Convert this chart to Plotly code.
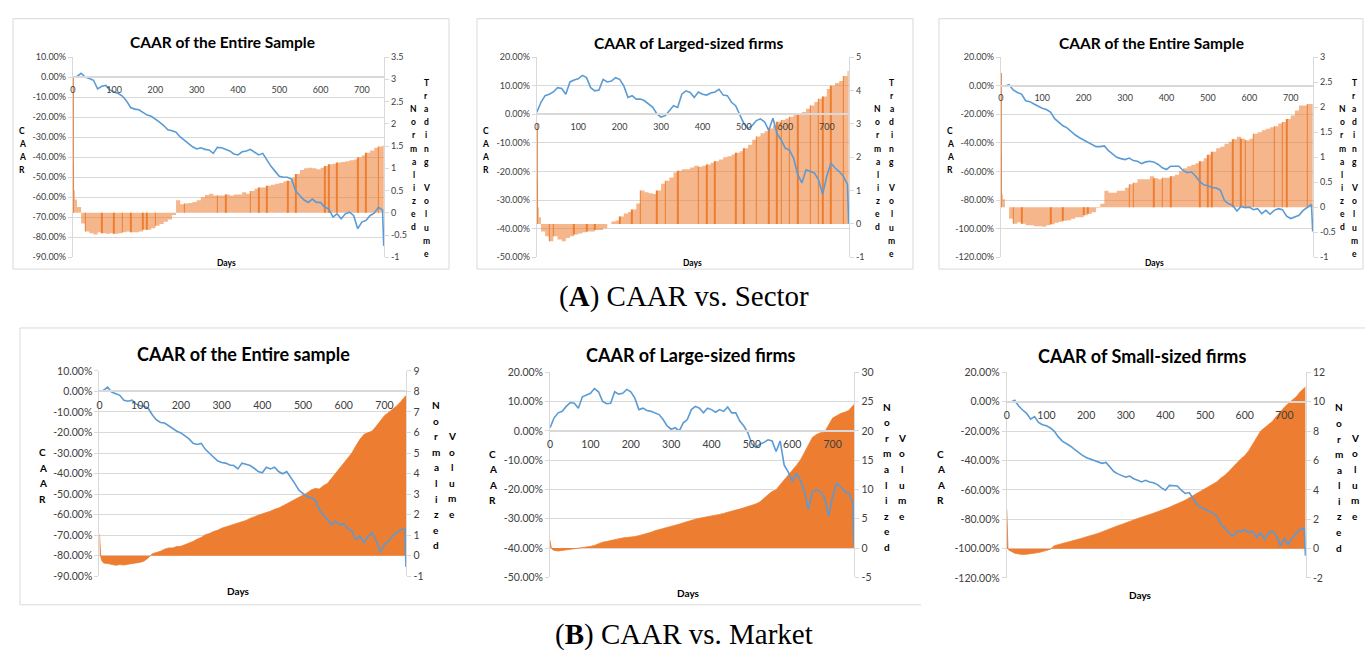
import plotly.graph_objects as go

W, H = 1365, 653

# ---------------- data ----------------
DAYS = list(range(0, 751, 10)) + [753]
VOL_DAYS = [0, 1, 3, 5] + list(range(10, 751, 10)) + [753]
TICK_DAYS = [0, 100, 200, 300, 400, 500, 600, 700]

# CAAR in percent
A1_CAAR = [0, 0.3, 1.9, 0, -0.7, -1.6, -5.9, -4.6, -4.2, -6.5, -7.5, -8.2, -9.5, -11.9, -15.2, -16.0,
           -16.3, -17.6, -19.0, -19.6, -20.9, -22.5, -24.2, -26.3, -26.8, -27.5, -29.9, -31.5, -33.2,
           -34.8, -35.9, -35.3, -36.1, -36.4, -38.1, -35.1, -35.3, -36.1, -36.9, -38.4, -38.9, -37.3,
           -36.9, -36.1, -37.7, -38.9, -38.1, -41.3, -44.6, -47.1, -49.5, -50.0, -50.0, -51.1, -56.9,
           -59.3, -61.4, -62.6, -60.9, -62.6, -62.6, -65.0, -65.8, -69.9, -68.3, -70.8, -68.3, -67.5,
           -69.1, -75.7, -72.4, -71.6, -69.1, -68.0, -65.0, -66.3, -84.3]
A2_CAAR = [0.7, 4.2, 6.5, 7.0, 7.8, 9.3, 9.0, 7.0, 11.3, 12.0, 12.4, 13.6, 12.8, 9.3, 8.2, 8.5, 12.2,
           11.3, 11.6, 12.8, 12.2, 9.9, 5.9, 6.5, 5.3, 5.3, 4.7, 3.6, 2.4, 0.1, -1.0, -0.5, 1.3, 3.0,
           2.4, 7.0, 8.2, 7.6, 5.9, 7.8, 7.0, 6.7, 7.4, 7.8, 8.7, 6.7, 6.5, 4.2, 3.0, 0.1, -3.3, -5.0,
           -3.9, -2.2, -1.6, -2.7, -5.6, -1.4, -6.8, -9.0, -11.9, -12.5, -15.4, -21.1, -24.0, -19.4,
           -20.0, -20.5, -22.8, -28.0, -21.7, -17.1, -18.8, -20.0, -21.7, -24.5, -38.3]
A3_CAAR = [0, -0.2, 0.7, -3.0, -4.8, -5.9, -10.5, -11.2, -12.8, -14.6, -15.8, -16.7, -18.5, -23.1,
           -25.9, -28.1, -29.5, -32.3, -34.5, -36.4, -38.0, -39.6, -41.0, -42.6, -42.6, -42.1, -45.5,
           -47.8, -50.1, -51.0, -51.7, -50.6, -52.4, -52.9, -54.5, -53.3, -52.9, -53.5, -55.1, -57.4,
           -58.6, -56.3, -56.3, -56.3, -59.3, -60.9, -60.2, -63.1, -67.0, -69.3, -70.0, -71.2, -71.6,
           -73.0, -80.3, -82.6, -83.7, -87.6, -84.4, -85.3, -84.9, -86.7, -86.0, -89.5, -87.2, -89.9,
           -87.2, -86.0, -86.7, -91.3, -92.9, -91.7, -90.6, -87.2, -84.9, -83.1, -102.0]
B1_CAAR = [0, 0.5, 2.1, -0.3, -1.1, -1.9, -4.3, -4.8, -4.3, -6.2, -7.0, -7.2, -8.3, -11.5, -13.9,
           -15.1, -15.4, -16.7, -18.3, -19.4, -20.2, -21.8, -23.1, -25.3, -25.8, -25.3, -28.2, -30.1,
           -32.2, -33.8, -34.6, -34.9, -35.8, -36.1, -37.7, -34.9, -35.4, -36.1, -37.4, -39.0, -39.6,
           -36.9, -37.7, -36.9, -39.0, -40.1, -39.0, -41.7, -44.9, -48.1, -49.7, -51.3, -51.8, -52.9,
           -57.6, -60.0, -62.9, -64.8, -63.2, -64.8, -64.5, -66.7, -68.0, -72.0, -70.4, -73.6, -70.4,
           -68.8, -72.8, -78.3, -74.4, -72.8, -70.4, -68.8, -67.2, -67.2, -85.5]
B2_CAAR = [1.1, 4.5, 6.2, 6.7, 8.4, 9.7, 9.5, 7.8, 11.7, 12.3, 12.9, 14.5, 13.4, 10.1, 9.3, 9.5, 13.4,
           12.6, 12.9, 14.2, 13.4, 11.2, 7.3, 7.8, 7.0, 6.7, 6.2, 5.6, 3.9, 1.7, 0.6, 1.1, 0.0, 2.8,
           3.9, 7.3, 8.4, 7.8, 6.2, 7.8, 7.3, 6.4, 7.3, 6.7, 8.2, 6.2, 6.2, 3.4, 1.7, -0.6, -4.5,
           -5.6, -4.5, -3.9, -3.0, -3.4, -7.0, -3.4, -11.7, -14.0, -17.3, -14.5, -16.8, -20.7, -26.8,
           -20.7, -20.1, -20.7, -22.9, -29.1, -22.4, -17.9, -19.0, -20.7, -21.3, -24.6, -39.1]
B3_CAAR = [0, -0.2, 1.1, -2.9, -5.6, -7.8, -11.8, -10.0, -14.0, -15.6, -16.3, -17.8, -20.1, -23.9,
           -26.8, -28.3, -30.1, -32.3, -34.6, -36.3, -37.9, -39.0, -40.1, -41.3, -41.9, -41.3, -44.6,
           -47.5, -49.1, -50.2, -51.3, -50.6, -52.4, -53.5, -54.6, -53.5, -54.6, -55.1, -56.4, -58.6,
           -60.2, -56.9, -57.3, -57.3, -60.2, -62.4, -61.8, -65.8, -70.2, -72.0, -72.9, -74.7, -75.8,
           -78.1, -83.6, -85.9, -89.2, -91.5, -88.1, -88.5, -87.0, -89.2, -88.1, -92.5, -89.2, -93.7,
           -89.2, -88.1, -91.4, -98.1, -93.0, -97.0, -92.5, -89.2, -87.0, -85.9, -104.8]

# Normalized (trading) volume
A1_VOL = [3.05, 1.1, 0.5, 0.3, 0.13, -0.24, -0.42, -0.46, -0.49, -0.44, -0.46, -0.47, -0.46, -0.47,
          -0.46, -0.44, -0.42, -0.44, -0.44, -0.42, -0.38, -0.38, -0.35, -0.29, -0.25, -0.2, -0.15,
          -0.05, 0.28, 0.19, 0.21, 0.22, 0.24, 0.28, 0.35, 0.40, 0.43, 0.39, 0.39, 0.39, 0.41, 0.39,
          0.41, 0.41, 0.46, 0.43, 0.49, 0.54, 0.57, 0.57, 0.61, 0.63, 0.65, 0.67, 0.71, 0.72, 0.79,
          0.87, 0.96, 1.0, 1.01, 1.0, 0.98, 1.01, 1.05, 1.09, 1.1, 1.13, 1.14, 1.16, 1.18, 1.2, 1.24,
          1.29, 1.35, 1.4, 1.46, 1.49, 1.51, 1.51]
A2_VOL = [3.0, 1.3, 0.5, 0.2, -0.23, -0.37, -0.52, -0.37, -0.47, -0.52, -0.42, -0.37, -0.32, -0.29,
          -0.25, -0.23, -0.23, -0.18, -0.18, -0.13, 0.0, 0.07, 0.1, 0.22, 0.31, 0.36, 0.43, 0.61, 1.0,
          0.95, 0.92, 0.9, 1.0, 1.2, 1.29, 1.39, 1.54, 1.59, 1.64, 1.64, 1.69, 1.74, 1.71, 1.74, 1.78,
          1.83, 1.88, 1.93, 2.0, 2.03, 2.08, 2.13, 2.18, 2.27, 2.37, 2.52, 2.62, 2.72, 2.78, 2.86, 2.96,
          3.06, 3.11, 3.16, 3.21, 3.27, 3.3, 3.35, 3.45, 3.55, 3.65, 3.75, 3.82, 4.04, 4.14, 4.22, 4.28,
          4.43, 4.58, 4.58]
A3_VOL = [2.68, 1.05, 0.26, 0.16, 0.0, -0.23, -0.33, -0.3, -0.33, -0.36, -0.36, -0.38, -0.38, -0.39,
          -0.36, -0.34, -0.31, -0.29, -0.27, -0.26, -0.23, -0.2, -0.2, -0.16, -0.13, -0.1, -0.01, 0.07,
          0.33, 0.29, 0.29, 0.33, 0.33, 0.39, 0.46, 0.49, 0.56, 0.56, 0.56, 0.62, 0.58, 0.56, 0.59,
          0.59, 0.62, 0.65, 0.72, 0.78, 0.82, 0.85, 0.88, 0.92, 0.98, 1.05, 1.11, 1.18, 1.21, 1.27,
          1.31, 1.36, 1.41, 1.37, 1.34, 1.37, 1.47, 1.5, 1.54, 1.57, 1.6, 1.62, 1.67, 1.7, 1.76, 1.83,
          1.93, 2.03, 2.03, 2.06, 2.06, 2.06]
B1_VOL = [1.05, 0.5, 0.0, -0.22, -0.35, -0.38, -0.43, -0.46, -0.43, -0.45, -0.41, -0.38, -0.35, -0.32,
          -0.25, -0.1, 0.1, 0.16, 0.22, 0.32, 0.38, 0.38, 0.45, 0.46, 0.54, 0.61, 0.7, 0.81, 0.89, 1.02,
          1.08, 1.18, 1.24, 1.34, 1.4, 1.46, 1.53, 1.59, 1.66, 1.72, 1.82, 1.88, 1.97, 2.04, 2.1, 2.17,
          2.26, 2.32, 2.42, 2.52, 2.64, 2.72, 2.83, 2.93, 3.06, 3.2, 3.28, 3.25, 3.41, 3.52, 3.76, 4.0,
          4.27, 4.47, 4.71, 5.0, 5.35, 5.67, 5.91, 5.99, 6.07, 6.31, 6.59, 6.82, 6.97, 7.13, 7.29, 7.5,
          7.71, 7.8]
B2_VOL = [1.3, 0.6, 0.0, -0.2, -0.4, -0.5, -0.4, -0.3, -0.2, -0.17, -0.1, 0.0, 0.1, 0.28, 0.45, 0.73,
          1.0, 1.12, 1.28, 1.45, 1.62, 1.73, 1.79, 1.84, 1.96, 2.12, 2.29, 2.51, 2.68, 2.96, 3.13, 3.35,
          3.52, 3.69, 3.8, 4.08, 4.3, 4.53, 4.75, 4.92, 5.08, 5.2, 5.31, 5.47, 5.64, 5.75, 5.92, 6.15,
          6.31, 6.48, 6.65, 6.87, 7.09, 7.32, 7.54, 7.88, 8.55, 9.1, 9.66, 9.94, 10.8, 11.6, 12.5, 13.3,
          14.1, 15.0, 16.3, 17.5, 18.9, 19.4, 19.7, 19.8, 21.1, 22.2, 22.6, 23.0, 23.2, 23.5, 24.3, 24.5]
B3_VOL = [2.65, 0.75, 0.0, -0.1, -0.18, -0.31, -0.36, -0.4, -0.38, -0.36, -0.31, -0.27, -0.2, -0.13,
          -0.04, 0.2, 0.27, 0.31, 0.4, 0.49, 0.53, 0.6, 0.71, 0.8, 0.87, 0.94, 1.03, 1.14, 1.25, 1.38,
          1.47, 1.56, 1.65, 1.76, 1.87, 1.96, 2.05, 2.14, 2.21, 2.32, 2.41, 2.5, 2.61, 2.72, 2.81, 2.94,
          3.03, 3.17, 3.3, 3.43, 3.61, 3.77, 3.92, 4.06, 4.21, 4.37, 4.55, 4.81, 4.99, 5.26, 5.55, 5.89,
          6.11, 6.33, 6.67, 7.11, 7.56, 8.0, 8.23, 8.45, 8.67, 9.01, 9.34, 9.63, 9.9, 10.12, 10.34,
          10.68, 10.9, 11.0]

# days on which the Excel bars show in the darker orange
A1_DARK = [0, 30, 70, 100, 120, 140, 170, 180, 200, 270, 350, 370, 430, 450, 470, 520, 540, 610,
           620, 640, 690, 710, 740]
A2_DARK = [0, 30, 40, 90, 120, 140, 200, 230, 250, 290, 310, 340, 390, 410, 430, 480, 500, 530,
           560, 580, 590, 610, 630, 660, 680, 690, 710, 740]
A3_DARK = [0, 30, 50, 120, 150, 200, 210, 310, 320, 370, 390, 410, 480, 500, 510, 560, 580, 590,
           610, 660, 680, 690, 740]

TITLES = ["CAAR of the Entire Sample", "CAAR of Larged-sized firms", "CAAR of the Entire Sample",
          "CAAR of the Entire sample", "CAAR of Large-sized firms", "CAAR of Small-sized firms"]

for s in (A1_CAAR, A2_CAAR, A3_CAAR, B1_CAAR, B2_CAAR, B3_CAAR):
    assert len(s) == len(DAYS), len(s)
for s in (A1_VOL, A2_VOL, A3_VOL, B1_VOL, B2_VOL, B3_VOL):
    assert len(s) == len(VOL_DAYS), len(s)

# ---------------- layout helpers ----------------
BLUE = "#5B9BD5"
ORANGE = "#ED7D31"
GRID = "#D9D9D9"
TXT = "#404040"
FONT = "Lato"


def fx(x):
    return x / W


def fy(y):
    return 1 - y / H


panels = [
    dict(caar=A1_CAAR, vol=A1_VOL, dark=A1_DARK, top=True, box=(70, 382, 52, 256),
         lr=(-90, 10, 10), rr=(-1, 3.5, 0.5), title=(220.3, 37), days=(224, 262.3),
         caar_lbl=(19.3, 127.3), norm=(411.7, 105), vol_lbl=(424, 78.3)),
    dict(caar=A2_CAAR, vol=A2_VOL, dark=A2_DARK, top=True, box=(535, 848, 52, 256),
         lr=(-50, 20, 10), rr=(-1, 5, 1), title=(686.7, 37.3), days=(691, 262.3),
         caar_lbl=(484, 127.3), norm=(876.7, 105), vol_lbl=(890.7, 78.3)),
    dict(caar=A3_CAAR, vol=A3_VOL, dark=A3_DARK, top=True, box=(1000, 1313, 52, 256),
         lr=(-120, 20, 20), rr=(-1, 3, 0.5), title=(1150.8, 38), days=(1154, 262.3),
         caar_lbl=(949.3, 127.3), norm=(1342.3, 105), vol_lbl=(1354.3, 78.3)),
    dict(caar=B1_CAAR, vol=B1_VOL, dark=None, top=False, box=(96.7, 404.3, 371.7, 581),
         lr=(-90, 10, 10), rr=(-1, 9, 1), title=(240.8, 355), days=(235.7, 595.7),
         caar_lbl=(40, 454.3), norm=(434, 406.7), vol_lbl=(450, 438.3)),
    dict(caar=B2_CAAR, vol=B2_VOL, dark=None, top=False, box=(548.3, 853.3, 373.3, 582),
         lr=(-50, 20, 10), rr=(-5, 30, 5), title=(689.2, 356), days=(687.3, 597.7),
         caar_lbl=(491, 456), norm=(885.7, 408.3), vol_lbl=(901, 440)),
    dict(caar=B3_CAAR, vol=B3_VOL, dark=None, top=False, box=(1006, 1305.7, 373.3, 582.7),
         lr=(-120, 20, 20), rr=(-2, 12, 2), title=(1141.7, 356.7), days=(1140, 600),
         caar_lbl=(940, 456), norm=(1339.3, 409), vol_lbl=(1355, 440)),
]

fig = go.Figure()
layout = {}
annotations = []
shapes = []


def stack(text, x, y_first, step, size):
    for k, ch in enumerate(text):
        if ch == " ":
            continue
        annotations.append(dict(text=f"<b>{ch}</b>", x=fx(x), y=fy(y_first + k * step),
                                xref="paper", yref="paper", showarrow=False,
                                xanchor="center", yanchor="middle",
                                font=dict(family=FONT, size=size, color="#000")))


def ticks(lo, hi, step):
    n = int(round((hi - lo) / step))
    return [round(lo + k * step, 6) for k in range(n + 1)]


for i, P in enumerate(panels):
    xa = "xaxis" if i == 0 else f"xaxis{i + 1}"
    xr = "x" if i == 0 else f"x{i + 1}"
    yb, yo = 2 * i + 1, 2 * i + 2
    yba = "yaxis" if yb == 1 else f"yaxis{yb}"
    ybr = "y" if yb == 1 else f"y{yb}"
    yoa, yor = f"yaxis{yo}", f"y{yo}"
    x0, x1, y0, y1 = P["box"]
    dx = [fx(x0), fx(x1)]
    dy = [fy(y1), fy(y0)]
    lo, hi, lstep = P["lr"]
    rlo, rhi, rstep = P["rr"]
    zero = dy[0] + (0 - lo) / (hi - lo) * (dy[1] - dy[0])
    fs = 9 if P["top"] else 10.5

    layout[xa] = dict(domain=dx, range=[0, 754], anchor="free", position=zero,
                      tickvals=TICK_DAYS, ticktext=[str(d) for d in TICK_DAYS],
                      showgrid=False, zeroline=False, showline=True, linecolor=GRID,
                      linewidth=1.5, ticks="", ticklabelstandoff=4,
                      tickfont=dict(family=FONT, size=fs, color=TXT))
    rv = ticks(rlo, rhi, rstep)
    layout[yba] = dict(domain=dy, range=[rlo, rhi], side="right", anchor=xr,
                       tickvals=rv, ticktext=[f"{v:g}" for v in rv],
                       showgrid=False, zeroline=False, showline=True, linecolor=GRID,
                       ticks="outside", ticklen=4, tickcolor=GRID,
                       tickfont=dict(family=FONT, size=fs, color=TXT))
    lv = ticks(lo, hi, lstep)
    layout[yoa] = dict(overlaying=ybr, side="left", anchor=xr, range=[lo, hi],
                       tickvals=lv, ticktext=[f"{v:.2f}%" for v in lv],
                       showgrid=True, gridcolor=GRID, gridwidth=1, zeroline=False,
                       showline=True, linecolor=GRID, ticks="outside", ticklen=4,
                       tickcolor=GRID, tickfont=dict(family=FONT, size=fs, color=TXT))

    # volume (drawn first, base subplot)
    if P["top"]:
        vmap = dict(zip(VOL_DAYS, P["vol"]))
        dd = P["dark"]
        fig.add_trace(go.Bar(x=dd, y=[vmap[d] for d in dd], width=1.6,
                             marker=dict(color=ORANGE, line=dict(width=0)),
                             xaxis=xr, yaxis=ybr, hoverinfo="skip"))
        fig.add_trace(go.Scatter(x=VOL_DAYS, y=P["vol"], mode="lines", line=dict(width=0, shape="hv"),
                                 fill="tozeroy", fillcolor="rgba(237,125,49,0.56)",
                                 xaxis=xr, yaxis=ybr, hoverinfo="skip"))
    else:
        fig.add_trace(go.Scatter(x=VOL_DAYS, y=P["vol"], mode="lines", line=dict(width=0.8, color=ORANGE),
                                 fill="tozeroy", fillcolor=ORANGE,
                                 xaxis=xr, yaxis=ybr, hoverinfo="skip"))
    # CAAR line (overlay subplot -> drawn on top)
    fig.add_trace(go.Scatter(x=DAYS, y=P["caar"], mode="lines",
                             line=dict(color=BLUE, width=1.6),
                             xaxis=xr, yaxis=yor, hoverinfo="skip"))

    tsize = 15.5 if P["top"] else 18
    annotations.append(dict(text=f"<b>{TITLES[i]}</b>", x=fx(P["title"][0]), y=fy(P["title"][1]),
                            xref="paper", yref="paper", showarrow=False,
                            xanchor="center", yanchor="middle",
                            font=dict(family=FONT, size=tsize, color="#000")))
    dsize = 8.5 if P["top"] else 10
    annotations.append(dict(text="<b>Days</b>", x=fx(P["days"][0]), y=fy(P["days"][1]),
                            xref="paper", yref="paper", showarrow=False,
                            xanchor="center", yanchor="middle",
                            font=dict(family=FONT, size=dsize, color="#000")))
    step = 13.4 if P["top"] else 15.85
    lsize = 8.5 if P["top"] else 10
    stack("CAAR", P["caar_lbl"][0], P["caar_lbl"][1], step, lsize)
    stack("Normalized", P["norm"][0], P["norm"][1], step, lsize)
    stack("Trading Volume" if P["top"] else "Volume", P["vol_lbl"][0], P["vol_lbl"][1], step, lsize)

# chart frames
for (a, b) in [(10, 447), (475, 912), (938, 1363)]:
    shapes.append(dict(type="rect", xref="paper", yref="paper", x0=fx(a), x1=fx(b), y0=fy(268), y1=fy(13),
                       line=dict(color=GRID, width=1)))
shapes.append(dict(type="line", xref="paper", yref="paper", x0=fx(17), x1=fx(1365), y0=fy(328), y1=fy(328),
                   line=dict(color=GRID, width=1)))
shapes.append(dict(type="line", xref="paper", yref="paper", x0=fx(17), x1=fx(17), y0=fy(328), y1=fy(610),
                   line=dict(color=GRID, width=1)))
shapes.append(dict(type="line", xref="paper", yref="paper", x0=fx(17), x1=fx(920), y0=fy(610), y1=fy(610),
                   line=dict(color=GRID, width=1)))

# captions
for txt, y in [("(<b>A</b>) CAAR vs. Sector", 296), ("(<b>B</b>) CAAR vs. Market", 640)]:
    annotations.append(dict(text=txt, x=fx(683), y=fy(y), xref="paper", yref="paper", showarrow=False,
                            xanchor="center", yanchor="middle",
                            font=dict(family="Liberation Serif", size=29, color="#000")))

fig.update_layout(width=W, height=H, autosize=False, margin=dict(l=0, r=0, t=0, b=0, pad=0),
                  paper_bgcolor="white", plot_bgcolor="rgba(0,0,0,0)", showlegend=False,
                  barmode="overlay", annotations=annotations, shapes=shapes, **layout)

fig.write_html("out.html", config={"displayModeBar": False},
               post_script="document.body.style.margin='0';document.body.style.padding='0';"
                           "document.body.style.overflow='hidden';"
                           "document.documentElement.style.overflow='hidden';")
